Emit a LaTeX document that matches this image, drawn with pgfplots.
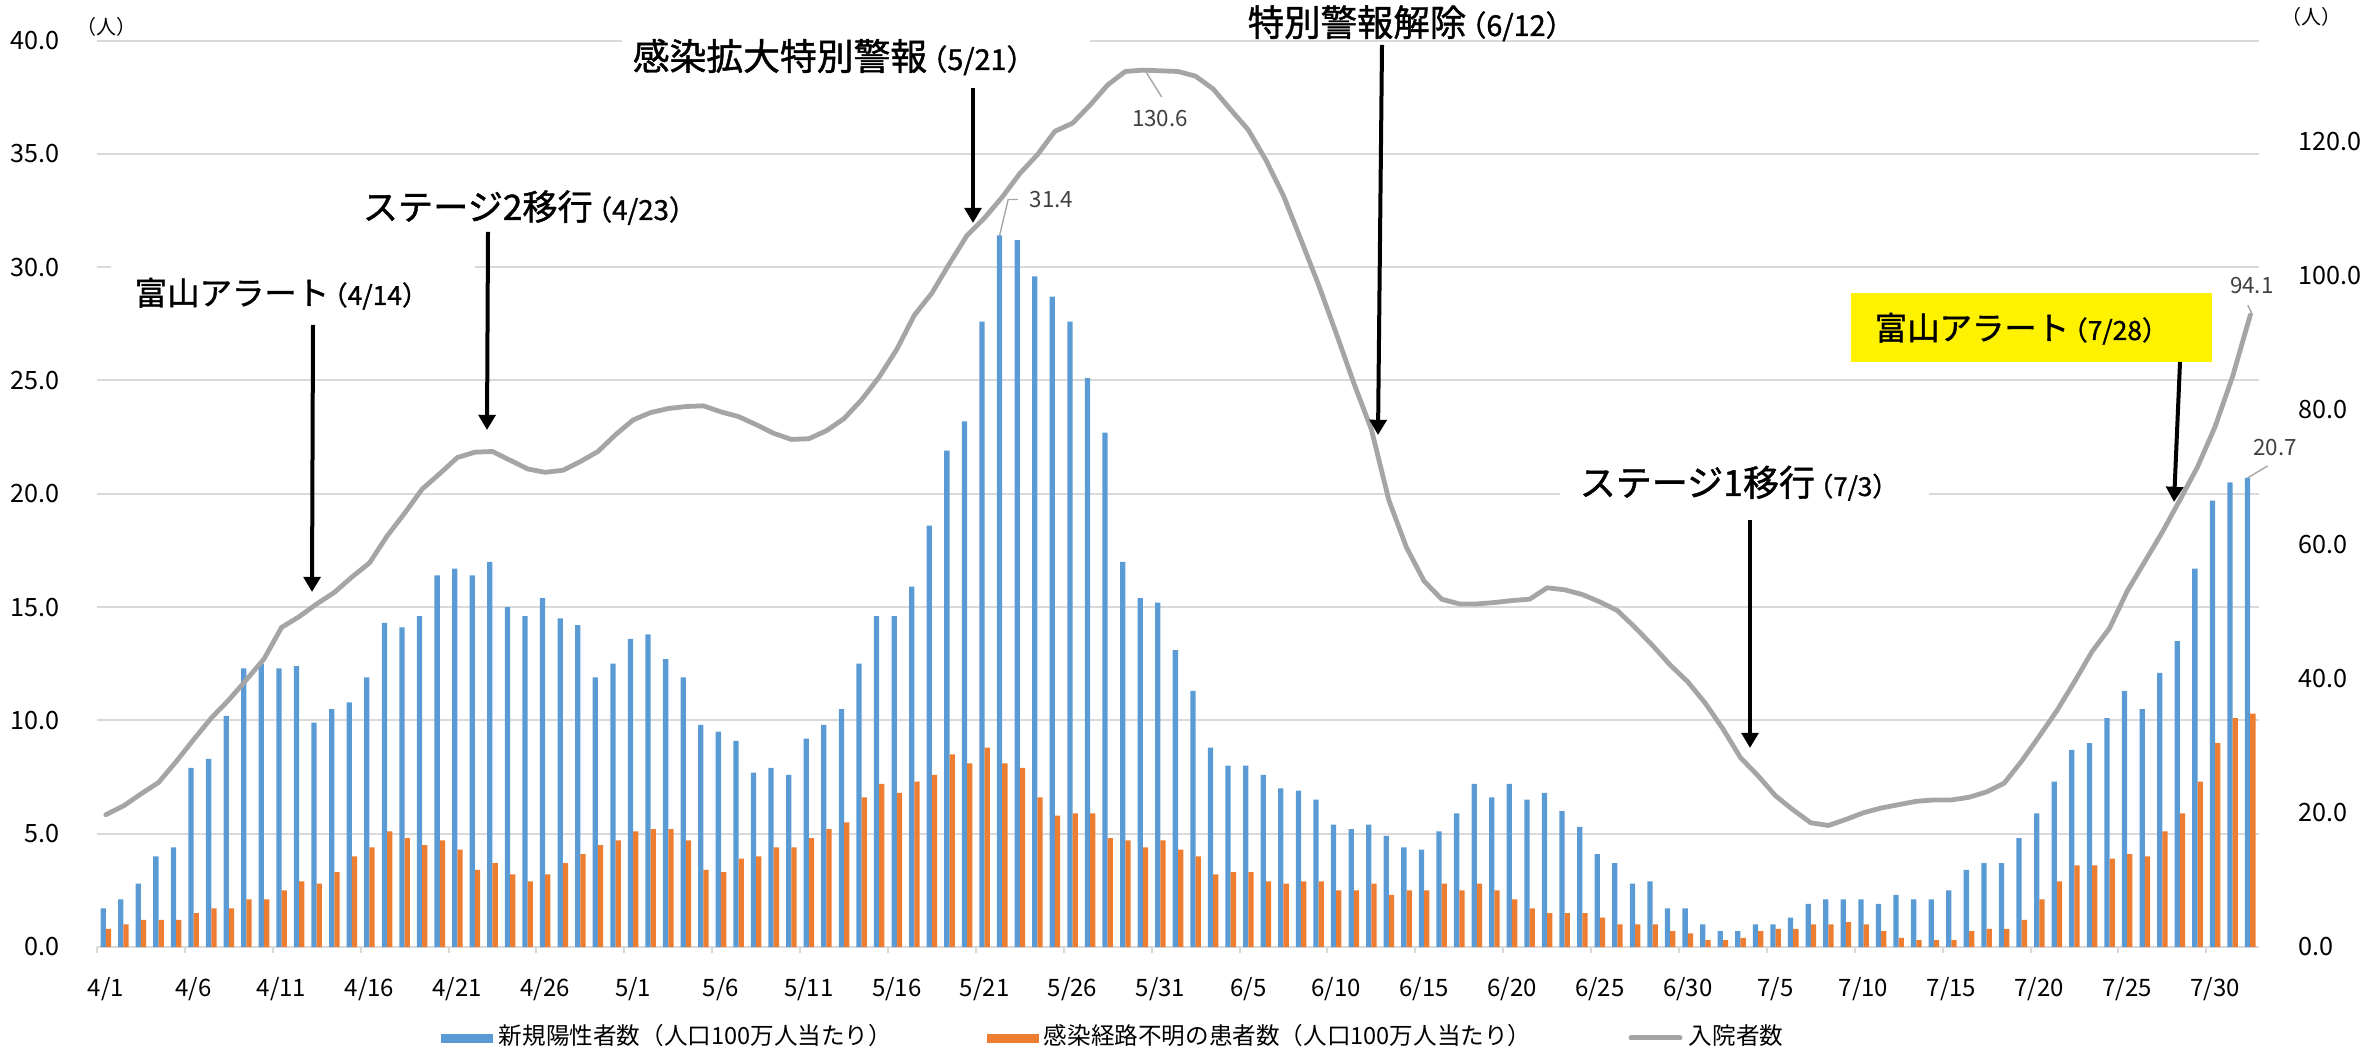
\documentclass[border=0pt]{standalone}
\usepackage{fontspec}
\setmainfont{Noto Sans CJK JP}
\newfontfamily\annfont{Noto Sans CJK JP}[FakeBold=1.2]
\usepackage{pgfplots}
\pgfplotsset{compat=1.18}
\usepackage{pgfplotstable}
\usetikzlibrary{arrows.meta}

\definecolor{cblue}{HTML}{5B9BD5}
\definecolor{corange}{HTML}{ED7D31}
\definecolor{cgray}{HTML}{A5A5A5}
\definecolor{cgrid}{HTML}{D9D9D9}
\definecolor{clabel}{HTML}{404040}
\definecolor{clead}{HTML}{A6A6A6}

\newcommand{\fs}[1]{\fontsize{#1}{#1}\selectfont}
\newcommand{\ann}[4]{{\annfont\fs{#1}#2}{\annfont\fs{#3}\kern-0.3em （#4）}}

\pgfplotstableread{
i new unk hosp
0 1.7 0.8 19.7
1 2.1 1.0 21.0
2 2.8 1.2 22.8
3 4.0 1.2 24.5
4 4.4 1.2 27.6
5 7.9 1.5 30.9
6 8.3 1.7 34.1
7 10.2 1.7 36.8
8 12.3 2.1 39.8
9 12.5 2.1 42.9
10 12.3 2.5 47.6
11 12.4 2.9 49.2
12 9.9 2.8 51.1
13 10.5 3.3 52.8
14 10.8 4.0 55.1
15 11.9 4.4 57.2
16 14.3 5.1 61.2
17 14.1 4.8 64.6
18 14.6 4.5 68.2
19 16.4 4.7 70.5
20 16.7 4.3 72.9
21 16.4 3.4 73.7
22 17.0 3.7 73.8
23 15.0 3.2 72.5
24 14.6 2.9 71.2
25 15.4 3.2 70.7
26 14.5 3.7 71.0
27 14.2 4.1 72.3
28 11.9 4.5 73.8
29 12.5 4.7 76.3
30 13.6 5.1 78.5
31 13.8 5.2 79.6
32 12.7 5.2 80.2
33 11.9 4.7 80.5
34 9.8 3.4 80.6
35 9.5 3.3 79.7
36 9.1 3.9 79.0
37 7.7 4.0 77.8
38 7.9 4.4 76.5
39 7.6 4.4 75.6
40 9.2 4.8 75.7
41 9.8 5.2 76.9
42 10.5 5.5 78.7
43 12.5 6.6 81.5
44 14.6 7.2 84.9
45 14.6 6.8 89.0
46 15.9 7.3 94.1
47 18.6 7.6 97.4
48 21.9 8.5 101.8
49 23.2 8.1 106.0
50 27.6 8.8 108.6
51 31.4 8.1 111.7
52 31.2 7.9 115.2
53 29.6 6.6 118.0
54 28.7 5.8 121.5
55 27.6 5.9 122.7
56 25.1 5.9 125.4
57 22.7 4.8 128.4
58 17.0 4.7 130.4
59 15.4 4.4 130.6
60 15.2 4.7 130.5
61 13.1 4.3 130.4
62 11.3 4.0 129.7
63 8.8 3.2 127.8
64 8.0 3.3 124.7
65 8.0 3.3 121.7
66 7.6 2.9 117.2
67 7.0 2.8 111.9
68 6.9 2.9 105.3
69 6.5 2.9 98.6
70 5.4 2.5 91.4
71 5.2 2.5 84.0
72 5.4 2.8 77.1
73 4.9 2.3 66.5
74 4.4 2.5 59.5
75 4.3 2.5 54.5
76 5.1 2.8 51.8
77 5.9 2.5 51.1
78 7.2 2.8 51.1
79 6.6 2.5 51.3
80 7.2 2.1 51.6
81 6.5 1.7 51.8
82 6.8 1.5 53.5
83 6.0 1.5 53.2
84 5.3 1.5 52.5
85 4.1 1.3 51.4
86 3.7 1.0 50.1
87 2.8 1.0 47.6
88 2.9 1.0 44.9
89 1.7 0.7 42.0
90 1.7 0.6 39.5
91 1.0 0.3 36.3
92 0.7 0.3 32.5
93 0.7 0.4 28.2
94 1.0 0.7 25.5
95 1.0 0.8 22.5
96 1.3 0.8 20.4
97 1.9 1.0 18.5
98 2.1 1.0 18.1
99 2.1 1.1 19.0
100 2.1 1.0 20.0
101 1.9 0.7 20.7
102 2.3 0.4 21.2
103 2.1 0.3 21.7
104 2.1 0.3 21.9
105 2.5 0.3 21.9
106 3.4 0.7 22.3
107 3.7 0.8 23.1
108 3.7 0.8 24.4
109 4.8 1.2 27.7
110 5.9 2.1 31.4
111 7.3 2.9 35.2
112 8.7 3.6 39.5
113 9.0 3.6 44.0
114 10.1 3.9 47.5
115 11.3 4.1 53.0
116 10.5 4.0 57.4
117 12.1 5.1 61.8
118 13.5 5.9 66.6
119 16.7 7.3 71.5
120 19.7 9.0 77.5
121 20.5 10.1 85.0
122 20.7 10.3 94.1
}\data

\begin{document}
\begin{tikzpicture}
\useasboundingbox (0,0) rectangle (591pt,262pt);

\begin{axis}[
  at={(24.25pt,25.25pt)}, anchor=south west,
  scale only axis, width=540.5pt, height=226.6pt,
  xmin=-0.5, xmax=122.5, ymin=0, ymax=40,
  axis x line*=bottom, axis y line*=left,
  x axis line style={draw=cgrid, line width=0.5pt},
  y axis line style={draw=none},
  ytick={0,5,...,40},
  ymajorgrids, grid style={draw=cgrid, line width=0.5pt},
  major tick length=0pt,
  tick align=outside,
  tick style={draw=cgrid, line width=0.5pt},
  yticklabel style={font=\fs{6.3pt}, xshift=-5.9pt, /pgf/number format/.cd, fixed, fixed zerofill, precision=1, assume math mode=true},
  xtick={0,5,...,120},
  xticklabels={4/1,4/6,4/11,4/16,4/21,4/26,5/1,5/6,5/11,5/16,5/21,5/26,5/31,6/5,6/10,6/15,6/20,6/25,6/30,7/5,7/10,7/15,7/20,7/25,7/30},
  xticklabel style={font=\fs{6pt}, yshift=-4pt},
  extra x ticks={-0.5,4.5,...,119.5},
  extra x tick labels={},
  extra x tick style={major tick length=1.6pt, tick align=outside, grid=none},
  clip=false,
]
\addplot[ybar, bar width=0.3, bar shift=-0.15, fill=cblue, draw=none] table[x=i,y=new]{\data};
\addplot[ybar, bar width=0.3, bar shift=0.15, fill=corange, draw=none] table[x=i,y=unk]{\data};
% data labels
\draw[clead, line width=0.35pt] (axis cs:50.85,31.4) -- ++(2.15pt,9pt) -- ++(2.4pt,0pt);
\node[font=\fs{5.6pt}, text=clabel, anchor=west, inner sep=0pt] at (axis cs:50.85,31.4) [xshift=7.3pt, yshift=8.9pt] {31.4};
\draw[clead, line width=0.35pt] (axis cs:121.85,20.7) -- ++(5pt,3pt);
\node[font=\fs{5.6pt}, text=clabel, inner sep=0pt] at (axis cs:121.85,20.7) [xshift=6.9pt, yshift=7.6pt] {20.7};
\end{axis}

\begin{axis}[
  at={(24.25pt,25.25pt)}, anchor=south west,
  scale only axis, width=540.5pt, height=226.6pt,
  xmin=-0.5, xmax=122.5, ymin=0, ymax=135,
  axis x line=none, axis y line*=right,
  y axis line style={draw=none},
  ytick={0,20,...,120},
  major tick length=0pt,
  tick style={draw=none},
  yticklabel style={font=\fs{6.3pt}, xshift=6.4pt, /pgf/number format/.cd, fixed, fixed zerofill, precision=1, assume math mode=true},
  clip=false,
]
\addplot[cgray, line width=1.2pt, line join=round, line cap=round] table[x=i,y=hosp]{\data};
\draw[clead, line width=0.35pt] (axis cs:59,130.6) ++(0.5pt,0pt) -- ++(4.2pt,-6.7pt);
\node[font=\fs{5.6pt}, text=clabel, inner sep=0pt] at (axis cs:59,130.6) [xshift=4.3pt, yshift=-12pt] {130.6};
\draw[clead, line width=0.35pt] (axis cs:122,94.1) ++(0.6pt,0pt) -- ++(-1.2pt,2.5pt);
\node[font=\fs{5.6pt}, text=clabel, inner sep=0pt] at (axis cs:122,94.1) [xshift=0.4pt, yshift=7.3pt] {94.1};
\end{axis}

\begin{scope}[shift={(0pt,262pt)}, x=0.25pt, y=-0.25pt]
  % white backgrounds of text boxes
  \fill[white] (111,262) rectangle (475,320);
  \fill[white] (622,28) rectangle (1090,84);
  \fill[white] (1560,462) rectangle (1929,514);
  \fill[yellow] (1851,293) rectangle (2212,362);
  % unit labels
  \node[font=\fs{5pt}, inner sep=0pt] at (106,27) {（人）};
  \node[font=\fs{5pt}, inner sep=0pt] at (2311,17) {（人）};
  % annotations
  \node[anchor=base west, inner sep=0pt] at (134,305) {\ann{8.1pt}{富山アラート}{6.6pt}{4/14}};
  \node[anchor=base west, inner sep=0pt] at (362,220) {\ann{8.8pt}{ステージ2移行}{6.9pt}{4/23}};
  \node[anchor=base west, inner sep=0pt] at (632,70) {\ann{9.2pt}{感染拡大特別警報}{7.2pt}{5/21}};
  \node[anchor=base west, inner sep=0pt] at (1247,36) {\ann{9.1pt}{特別警報解除}{7.2pt}{6/12}};
  \node[anchor=base west, inner sep=0pt] at (1579,496) {\ann{9pt}{ステージ1移行}{6.5pt}{7/3}};
  \node[anchor=base west, inner sep=0pt] at (1874,340) {\ann{8.1pt}{富山アラート}{6.6pt}{7/28}};
  % arrows
  \begin{scope}[line width=1pt, -{Triangle[length=3.8pt,width=4.2pt]}]
    \draw (313,325) -- (312,592);
    \draw (488,232) -- (487,430);
    \draw (973,88) -- (973,223);
    \draw (1382,45) -- (1378,435);
    \draw (1750,520) -- (1750,748);
    \draw (2180,362) -- (2174,502);
  \end{scope}
  % legend
  \fill[cblue] (441,1034) rectangle (493,1043);
  \node[anchor=base west, inner sep=0pt, font=\fs{5.9pt}] at (498,1045) {新規陽性者数（人口100万人当たり）};
  \fill[corange] (987,1034) rectangle (1039,1043);
  \node[anchor=base west, inner sep=0pt, font=\fs{5.9pt}] at (1043,1045) {感染経路不明の患者数（人口100万人当たり）};
  \draw[cgray, line width=1.25pt, line cap=round] (1631,1038) -- (1680,1038);
  \node[anchor=base west, inner sep=0pt, font=\fs{5.9pt}] at (1688,1045) {入院者数};
\end{scope}
\end{tikzpicture}
\end{document}
